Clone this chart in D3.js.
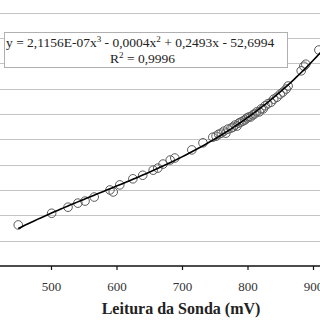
<!DOCTYPE html>
<html>
<head>
<meta charset="utf-8">
<script src="https://cdn.jsdelivr.net/npm/d3@7"></script>
<style>
  body { margin: 0; background: #fff; }
  svg { display: block; }
</style>
</head>
<body>
<div class="chart"></div>
<script>
var leitura = [450, 501, 526, 541, 552, 566, 590, 595, 605, 625, 640, 656, 663, 671, 682, 689,
  715, 732, 747, 752, 756, 760, 764, 767, 770, 775, 778, 781, 784, 787, 790, 793, 796, 799,
  802, 805, 808, 811, 814, 818, 821, 824, 827, 831, 836, 840, 845, 850, 854, 859, 862,
  882, 886, 889, 909];
var umidade = [8.1, 10.4, 11.6, 12.4, 12.8, 13.6, 15.0, 14.6, 16.0, 17.2, 17.9, 18.9, 19.3, 20.1, 20.9, 21.3,
  22.9, 24.3, 25.4, 25.6, 26.0, 26.2, 26.6, 26.2, 27.0, 27.2, 27.4, 27.8, 27.6, 28.2, 28.4, 28.6, 28.8, 29.2,
  29.4, 29.4, 29.8, 30.0, 30.4, 30.4, 31.0, 31.0, 31.6, 32.0, 32.3, 32.9, 33.3, 33.9, 34.3, 34.9, 35.5,
  38.5, 39.4, 39.8, 42.6];
var xTicks = [500, 600, 700, 800, 900];
var yGrid = [5, 10, 15, 20, 25, 30, 35, 40, 45, 50];
var eqParts = [["y = 2,1156E-07x", ""], ["3", "sup"], [" - 0,0004x", ""], ["2", "sup"], [" + 0,2493x - 52,6994", ""]];
var r2Parts = [["R", ""], ["2", "sup"], [" = 0,9996", ""]];

var width = 320, height = 320;
var serif = "'Liberation Serif', 'DejaVu Serif', serif";

var svg = d3.select('.chart').append('svg')
  .attr('width', width)
  .attr('height', height);

var x = d3.scaleLinear().domain([500, 900]).range([51, 313]);
var y = d3.scaleLinear().domain([0, 50]).range([266, 12.5]);

// gridlines
svg.append('g').selectAll('line')
  .data(yGrid)
  .enter().append('line')
    .attr('x1', 0)
    .attr('x2', width)
    .attr('y1', function(d){ return Math.round(y(d)) + 0.5; })
    .attr('y2', function(d){ return Math.round(y(d)) + 0.5; })
    .attr('stroke', '#c4c4c4')
    .attr('stroke-width', 1);

// x axis
var xAxis = d3.axisBottom(x).tickValues(xTicks).tickSize(4).tickPadding(12);
var gx = svg.append('g').attr('transform', 'translate(0,' + y(0) + ')').call(xAxis);
gx.select('.domain').remove();
gx.selectAll('.tick line').attr('stroke', '#111').attr('stroke-width', 1.2);
gx.selectAll('.tick text')
  .style('font-family', serif)
  .style('font-size', '13px')
  .attr('fill', '#333');
gx.append('line')
  .attr('x1', 0).attr('x2', width)
  .attr('y1', 0).attr('y2', 0)
  .attr('stroke', '#111').attr('stroke-width', 1.5);

svg.append('text')
  .text('Leitura da Sonda (mV)')
  .attr('x', 181)
  .attr('y', 314)
  .style('text-anchor', 'middle')
  .style('font-family', serif)
  .style('font-size', '16px')
  .style('font-weight', 'bold')
  .attr('fill', '#222');

// pontos
svg.append('g').selectAll('circle')
  .data(leitura)
  .enter().append('circle')
    .attr('cx', function(d){ return x(d); })
    .attr('cy', function(d, i){ return y(umidade[i]); })
    .attr('r', 4.3)
    .attr('fill', 'none')
    .attr('stroke', '#5a5a5a')
    .attr('stroke-width', 1);

// linha de tendencia polinomial (ordem 3), ajustada por minimos quadrados
function fitCubic(xs, ys) {
  var n = 4, A = [], b = [];
  for (var r = 0; r < n; r++) { A.push([0, 0, 0, 0]); b.push(0); }
  xs.forEach(function(xv, k) {
    var t = (xv - 700) / 100;
    for (var r = 0; r < n; r++) {
      for (var c = 0; c < n; c++) A[r][c] += Math.pow(t, r + c);
      b[r] += ys[k] * Math.pow(t, r);
    }
  });
  for (var p = 0; p < n; p++) {
    var mx = p;
    for (var r = p + 1; r < n; r++) if (Math.abs(A[r][p]) > Math.abs(A[mx][p])) mx = r;
    var tmp = A[p]; A[p] = A[mx]; A[mx] = tmp;
    var tb = b[p]; b[p] = b[mx]; b[mx] = tb;
    for (var r = p + 1; r < n; r++) {
      var f = A[r][p] / A[p][p];
      for (var c = p; c < n; c++) A[r][c] -= f * A[p][c];
      b[r] -= f * b[p];
    }
  }
  var coef = [0, 0, 0, 0];
  for (var r = n - 1; r >= 0; r--) {
    var s = b[r];
    for (var c = r + 1; c < n; c++) s -= A[r][c] * coef[c];
    coef[r] = s / A[r][r];
  }
  return function(xv) {
    var t = (xv - 700) / 100;
    return coef[0] + coef[1] * t + coef[2] * t * t + coef[3] * t * t * t;
  };
}
var trend = fitCubic(leitura, umidade);
var xExt = d3.extent(leitura);
var trendPts = d3.range(xExt[0], xExt[1] + 20, 5).map(function(v){ return [v, trend(v)]; });

svg.append('path')
  .datum(trendPts)
  .attr('fill', 'none')
  .attr('stroke', '#000')
  .attr('stroke-width', 1.6)
  .attr('d', d3.line()
    .x(function(d){ return x(d[0]); })
    .y(function(d){ return y(d[1]); }));

// caixa da equacao
svg.append('rect')
  .attr('x', 4.5).attr('y', 32.5)
  .attr('width', 283).attr('height', 35)
  .attr('fill', '#fff')
  .attr('stroke', '#b0b0b0')
  .attr('stroke-width', 1);

function richText(parts, xPos, yPos) {
  var t = svg.append('text')
    .attr('x', xPos).attr('y', yPos)
    .style('font-family', serif)
    .style('font-size', '13.5px')
    .attr('fill', '#222');
  parts.forEach(function(p) {
    var s = t.append('tspan').text(p[0]);
    if (p[1] === 'sup') s.style('font-size', '9px').attr('dy', -5);
    else if (p[0] !== parts[0][0]) s.attr('dy', 0);
  });
  // reset baseline after superscripts
  t.selectAll('tspan').each(function(d, i) {
    var prev = parts[i - 1];
    if (i > 0 && prev[1] === 'sup' && parts[i][1] !== 'sup') d3.select(this).attr('dy', 5);
  });
  return t;
}
richText(eqParts, 6, 47);
richText(r2Parts, 110, 63);
</script>
</body>
</html>
